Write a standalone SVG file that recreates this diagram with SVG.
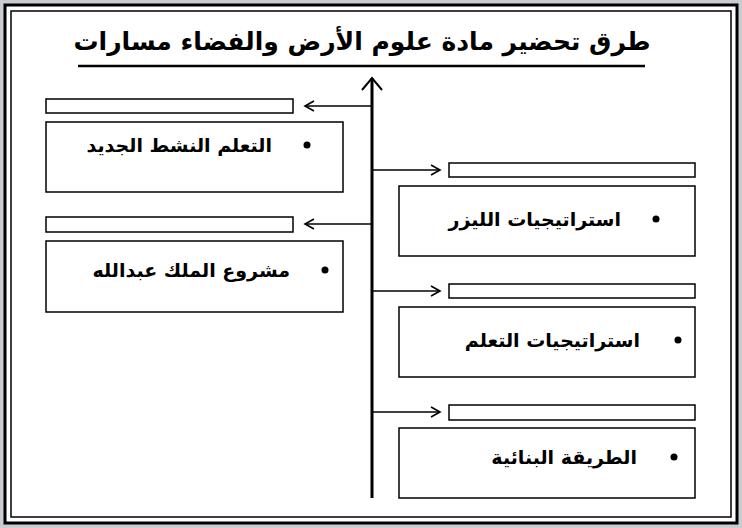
<svg xmlns="http://www.w3.org/2000/svg" width="742" height="528" viewBox="0 0 742 528">
<style>
.box{fill:#fff;stroke:#000;stroke-width:1.5}
.lbl{font-family:"DejaVu Sans","Noto Sans",sans-serif;font-weight:bold;font-size:19px;fill:#000}
.ar{stroke:#000;stroke-width:1.6;fill:none}
</style>
<defs>
<marker id="ah" markerWidth="12" markerHeight="12" refX="10" refY="6" orient="auto" markerUnits="userSpaceOnUse">
<path d="M1,1 L10,6 L1,11" fill="none" stroke="#000" stroke-width="1.6"/>
</marker>
</defs>
<rect width="742" height="528" fill="#c9cdd1"/>
<rect x="5" y="5" width="732" height="518" fill="#fff" stroke="#000" stroke-width="3"/>
<rect x="11" y="11" width="720" height="506" fill="none" stroke="#000" stroke-width="1.5"/>
<g id="title">
<text x="362" y="50" text-anchor="middle" direction="rtl" font-family="DejaVu Sans, sans-serif" font-weight="bold" font-size="25">طرق تحضير مادة علوم الأرض والفضاء مسارات</text>
<line x1="78" y1="66" x2="645" y2="66" stroke="#000" stroke-width="2.5"/>
</g>
<g id="connectors">
<line x1="372" y1="498" x2="372" y2="78" stroke="#000" stroke-width="3"/>
<path d="M362,90 L372,78 L382,90" fill="none" stroke="#000" stroke-width="2"/>
<line class="ar" x1="372" y1="106" x2="305" y2="106" marker-end="url(#ah)"/>
<line class="ar" x1="372" y1="224" x2="305" y2="224" marker-end="url(#ah)"/>
<line class="ar" x1="372" y1="170" x2="440" y2="170" marker-end="url(#ah)"/>
<line class="ar" x1="372" y1="291" x2="440" y2="291" marker-end="url(#ah)"/>
<line class="ar" x1="372" y1="412" x2="440" y2="412" marker-end="url(#ah)"/>
</g>
<g id="n1">
<rect class="box" x="46" y="99" width="247" height="14"/>
<rect class="box" x="46" y="122" width="297" height="70"/>
<circle cx="307" cy="145" r="3.5"/>
<text class="lbl" x="272" y="152" text-anchor="start" direction="rtl">التعلم النشط الجديد</text>
</g>
<g id="n2">
<rect class="box" x="46" y="217" width="247" height="15"/>
<rect class="box" x="46" y="241" width="297" height="71"/>
<circle cx="325" cy="270" r="3.5"/>
<text class="lbl" x="290" y="277" text-anchor="start" direction="rtl">مشروع الملك عبدالله</text>
</g>
<g id="n3">
<rect class="box" x="449" y="163" width="246" height="14"/>
<rect class="box" x="399" y="186" width="296" height="70"/>
<circle cx="656" cy="219" r="3.5"/>
<text class="lbl" x="621" y="226" text-anchor="start" direction="rtl">استراتيجيات الليزر</text>
</g>
<g id="n4">
<rect class="box" x="449" y="284" width="246" height="14"/>
<rect class="box" x="399" y="307" width="296" height="70"/>
<circle cx="678" cy="340" r="3.5"/>
<text class="lbl" x="640" y="347" text-anchor="start" direction="rtl">استراتيجيات التعلم</text>
</g>
<g id="n5">
<rect class="box" x="449" y="405" width="246" height="15"/>
<rect class="box" x="399" y="428" width="296" height="70"/>
<circle cx="674" cy="457" r="3.5"/>
<text class="lbl" x="637" y="464" text-anchor="start" direction="rtl">الطريقة البنائية</text>
</g>
</svg>
